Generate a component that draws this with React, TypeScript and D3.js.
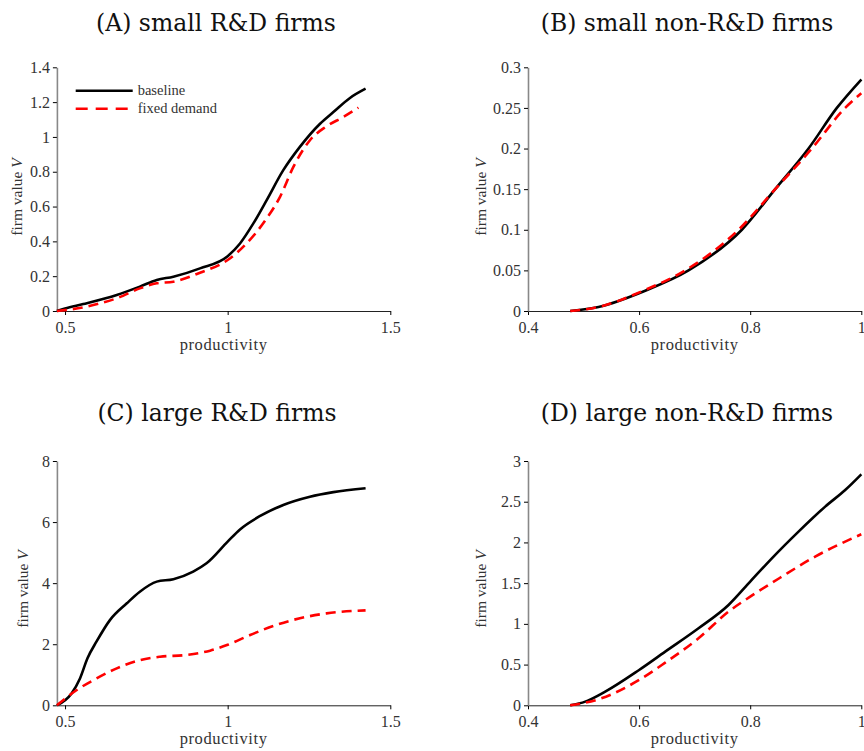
import React, { useRef, useEffect } from "react";
import * as d3 from "d3";

// panel A: small R&D firms
const prodA = [0.475, 0.5, 0.556, 0.659, 0.73, 0.782, 0.833, 0.915, 1.0, 1.038, 1.079, 1.12, 1.171, 1.222, 1.284, 1.325, 1.376, 1.424];
const baseA = [0, 0.015, 0.04, 0.092, 0.14, 0.178, 0.197, 0.245, 0.315, 0.388, 0.503, 0.637, 0.809, 0.943, 1.076, 1.143, 1.224, 1.277];
const prodA2 = [0.475, 0.556, 0.608, 0.659, 0.73, 0.782, 0.833, 0.915, 1.0, 1.058, 1.12, 1.161, 1.202, 1.253, 1.304, 1.356, 1.402];
const fixedA = [0, 0.021, 0.044, 0.073, 0.13, 0.159, 0.168, 0.22, 0.293, 0.388, 0.532, 0.656, 0.828, 0.981, 1.061, 1.115, 1.168];

// panel B: small non-R&D firms
const prodB = [0.476, 0.527, 0.611, 0.689, 0.785, 0.845, 0.905, 0.956, 1.0];
const baseB = [0, 0.005, 0.025, 0.05, 0.1, 0.15, 0.2, 0.25, 0.285];
const prodB2 = [0.476, 0.527, 0.611, 0.683, 0.779, 0.845, 0.911, 0.971, 1.0];
const fixedB = [0, 0.005, 0.026, 0.05, 0.1, 0.15, 0.2, 0.25, 0.268];

// panel C: large R&D firms
const prodC = [0.475, 0.52, 0.546, 0.569, 0.597, 0.638, 0.69, 0.73, 0.782, 0.833, 0.894, 0.935, 1.0, 1.038, 1.1, 1.171, 1.253, 1.325, 1.424];
const baseC = [0, 0.39, 0.88, 1.54, 2.09, 2.79, 3.34, 3.72, 4.05, 4.13, 4.38, 4.65, 5.36, 5.76, 6.2, 6.56, 6.83, 6.98, 7.11];
const prodC2 = [0.475, 0.536, 0.597, 0.659, 0.73, 0.792, 0.874, 0.946, 1.0, 1.069, 1.14, 1.222, 1.304, 1.424];
const fixedC = [0, 0.5, 0.88, 1.21, 1.48, 1.59, 1.65, 1.79, 1.98, 2.3, 2.6, 2.85, 3.01, 3.11];

// panel D: large non-R&D firms
const prodD = [0.476, 0.503, 0.539, 0.6, 0.647, 0.707, 0.761, 0.8, 0.839, 0.887, 0.935, 0.971, 1.0];
const baseD = [0, 0.045, 0.168, 0.434, 0.659, 0.946, 1.232, 1.519, 1.805, 2.133, 2.44, 2.644, 2.837];
const prodD2 = [0.476, 0.527, 0.6, 0.647, 0.707, 0.761, 0.8, 0.857, 0.917, 1.0];
const fixedD = [0, 0.074, 0.311, 0.524, 0.823, 1.15, 1.334, 1.58, 1.826, 2.1];

const ticksRD = [0.5, 1, 1.5];
const ticksNonRD = [0.4, 0.6, 0.8, 1];
const yTicksA = [0, 0.2, 0.4, 0.6, 0.8, 1, 1.2, 1.4];
const yTicksB = [0, 0.05, 0.1, 0.15, 0.2, 0.25, 0.3];
const yTicksC = [0, 2, 4, 6, 8];
const yTicksD = [0, 0.5, 1, 1.5, 2, 2.5, 3];

const legendLabels = ["baseline", "fixed demand"];

const panels = [
  { title: "(A) small R&D firms", xDom: [0.475, 1.5], xR: [56.9, 390.3], yDom: [0, 1.4], yR: [311, 67.3], xt: ticksRD, yt: yTicksA, px: prodA, b: baseA, px2: prodA2, f: fixedA, titleX: 216, titleY: 31, ylabX: 22, ylabY: 197, xlabY: 350, legend: true },
  { title: "(B) small non-R&D firms", xDom: [0.4, 1.0], xR: [528, 861.3], yDom: [0, 0.3], yR: [311, 67.3], xt: ticksNonRD, yt: yTicksB, px: prodB, b: baseB, px2: prodB2, f: fixedB, titleX: 687, titleY: 31, ylabX: 486, ylabY: 197, xlabY: 350, legend: false },
  { title: "(C) large R&D firms", xDom: [0.475, 1.5], xR: [56.9, 390.3], yDom: [0, 8], yR: [705.3, 461], xt: ticksRD, yt: yTicksC, px: prodC, b: baseC, px2: prodC2, f: fixedC, titleX: 217, titleY: 421, ylabX: 28, ylabY: 589, xlabY: 744, legend: false },
  { title: "(D) large non-R&D firms", xDom: [0.4, 1.0], xR: [528, 861.3], yDom: [0, 3], yR: [705.3, 461], xt: ticksNonRD, yt: yTicksD, px: prodD, b: baseD, px2: prodD2, f: fixedD, titleX: 687, titleY: 421, ylabX: 486, ylabY: 589, xlabY: 744, legend: false },
];

const serif = "'Liberation Serif', serif";

const App = () => {
  const svgRef = useRef(null);

  useEffect(() => {
    const svg = d3.select(svgRef.current);
    svg.selectAll("*").remove();

    panels.forEach((p) => {
      const g = svg.append("g");
      const x = d3.scaleLinear().domain(p.xDom).range(p.xR);
      const y = d3.scaleLinear().domain(p.yDom).range(p.yR);

      g.append("text")
        .attr("x", p.titleX)
        .attr("y", p.titleY)
        .attr("text-anchor", "middle")
        .style("font-family", "'DejaVu Serif', serif")
        .style("font-size", "23.5px")
        .attr("fill", "#111")
        .text(p.title);

      // x axis
      const xAx = g.append("g").attr("transform", `translate(0,${p.yR[0]})`)
        .call(d3.axisBottom(x).tickValues(p.xt).tickSize(4).tickSizeOuter(0).tickFormat((d) => String(d)));
      xAx.attr("font-family", serif).attr("font-size", 16);
      xAx.select(".domain").attr("stroke", "#222");
      xAx.selectAll("text").attr("fill", "#333").attr("dy", "0.95em");

      // y axis
      const yAx = g.append("g").attr("transform", `translate(${p.xR[0]},0)`)
        .call(d3.axisLeft(y).tickValues(p.yt).tickSize(4).tickSizeOuter(0).tickFormat((d) => String(d)));
      yAx.attr("font-family", serif).attr("font-size", 16);
      yAx.select(".domain").attr("stroke", "#888").attr("stroke-width", 1.6);
      yAx.selectAll("text").attr("fill", "#333").attr("x", -7);

      g.append("text")
        .attr("x", (p.xR[0] + p.xR[1]) / 2)
        .attr("y", p.xlabY)
        .attr("text-anchor", "middle")
        .style("font-family", serif)
        .style("font-size", "16.5px")
        .style("letter-spacing", "0.6px")
        .attr("fill", "#333")
        .text("productivity");

      const yl = g.append("text")
        .attr("transform", `translate(${p.ylabX},${p.ylabY}) rotate(-90)`)
        .attr("text-anchor", "middle")
        .style("font-family", serif)
        .style("font-size", "15.5px")
        .attr("fill", "#333");
      yl.append("tspan").text("firm value ");
      yl.append("tspan").style("font-style", "italic").text("V");

      const line = d3.line().x((d) => x(d[0])).y((d) => y(d[1])).curve(d3.curveMonotoneX);

      g.append("path")
        .datum(p.px.map((v, i) => [v, p.b[i]]))
        .attr("d", line)
        .attr("fill", "none")
        .attr("stroke", "#000")
        .attr("stroke-width", 2.6);

      g.append("path")
        .datum(p.px2.map((v, i) => [v, p.f[i]]))
        .attr("d", line)
        .attr("fill", "none")
        .attr("stroke", "#ff0000")
        .attr("stroke-width", 2.6)
        .attr("stroke-dasharray", "10,6");

      if (p.legend) {
        legendLabels.forEach((lab, i) => {
          const ly = 90.7 + i * 18;
          g.append("line")
            .attr("x1", 75.7).attr("x2", 132.7)
            .attr("y1", ly).attr("y2", ly)
            .attr("stroke", i === 0 ? "#000" : "#ff0000")
            .attr("stroke-width", 2.6)
            .attr("stroke-dasharray", i === 0 ? null : "12,8");
          g.append("text")
            .attr("x", 137.7)
            .attr("y", ly)
            .attr("dy", "0.33em")
            .style("font-family", serif)
            .style("font-size", "14.5px")
            .attr("fill", "#333")
            .text(lab);
        });
      }
    });
  }, []);

  return (
    <svg ref={svgRef} width={864} height={751}
      style={{ position: "absolute", left: 0, top: 0, background: "#fff" }} />
  );
};

export default App;
